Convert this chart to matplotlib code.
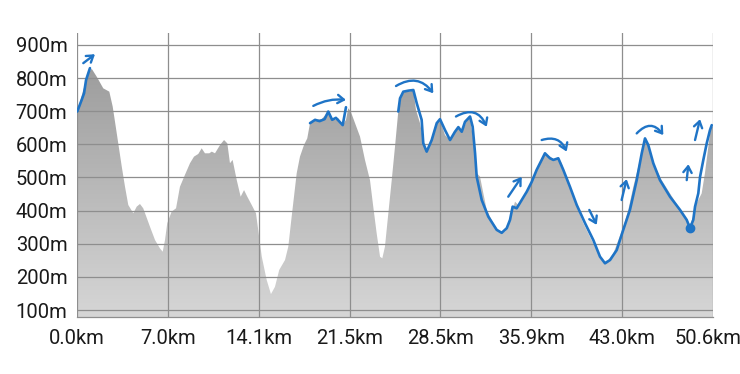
import numpy as np
import matplotlib
matplotlib.use("Agg")
import matplotlib.pyplot as plt
import matplotlib.transforms as mtransforms
from matplotlib.colors import LinearSegmentedColormap

plt.rcParams['font.family'] = ['Roboto', 'DejaVu Sans']

# elevation profile (km, m)
dist = [0.0, 0.50, 0.98, 1.17, 1.57, 2.09, 2.57, 2.84, 3.16, 3.56, 3.82, 4.08, 4.48, 4.75,
        5.01, 5.27, 5.81, 6.21, 6.60, 6.82, 7.00, 7.18, 7.53, 7.88, 8.19, 8.59, 8.99, 9.31,
        9.65, 9.92, 10.18, 10.53, 10.72, 10.98, 11.38, 11.70, 11.96, 12.17, 12.38, 12.71,
        13.02, 13.29, 13.55, 13.90, 14.24, 14.42, 14.70, 15.09, 15.43, 15.75, 16.09, 16.55,
        16.81, 17.08, 17.48, 17.74, 18.06, 18.32, 18.54, 18.94, 19.47, 19.99, 20.26, 20.53,
        20.79, 21.14, 21.40, 21.58, 21.78, 22.12, 22.52, 22.91, 23.31, 23.57, 23.84, 24.11,
        24.29, 24.50, 24.77, 25.04, 25.30, 25.56, 25.83, 26.10, 26.49, 26.76, 26.97, 27.29,
        27.55, 27.82, 28.09, 28.48, 28.75, 29.02, 29.28, 29.68, 29.99, 30.34, 30.61, 30.87,
        31.13, 31.27, 31.53, 31.80, 32.06, 32.33, 32.60, 32.99, 33.39, 33.79, 34.05, 34.31,
        34.58, 34.85, 35.11, 35.38, 35.78, 36.18, 36.57, 36.97, 37.23, 37.63, 38.03, 38.29,
        38.56, 38.82, 39.22, 39.76, 40.28, 40.81, 41.35, 41.87, 42.27, 42.67, 43.07, 43.46,
        43.86, 44.26, 44.66, 45.06, 45.27, 45.59, 45.99, 46.52, 47.18, 47.84, 48.37, 48.71,
        49.03, 49.30, 49.70, 49.96, 50.23, 50.42, 50.60]
elev = [694, 764, 819, 828, 804, 769, 759, 714, 634, 533, 472, 417, 392, 412,
        420, 407, 351, 311, 286, 276, 311, 362, 397, 407, 472, 508, 543, 563,
        571, 588, 573, 573, 578, 573, 598, 613, 603, 543, 553, 492,
        442, 462, 442, 417, 392, 341, 261, 191, 148, 170, 221, 251,
        291, 382, 513, 563, 598, 618, 664, 674, 676, 699, 679, 674,
        679, 658, 674, 709, 699, 664, 623, 553, 492, 412, 332, 261,
        256, 291, 392, 492, 593, 699, 749, 759, 759, 764, 704, 664,
        613, 578, 603, 653, 674, 658, 628, 613, 638, 649, 638, 658,
        684, 679, 613, 513, 503, 452, 402, 372, 346, 332, 336, 351,
        392, 427, 417, 427, 452, 482, 528, 558, 573, 563, 553, 558,
        543, 513, 472, 412, 362, 321, 281, 246, 251, 271, 311, 351,
        402, 472, 533, 593, 618, 573, 533, 492, 452, 412, 382, 351,
        382, 422, 452, 513, 593, 649, 655]

xtick_labels = ['0.0km', '7.0km', '14.1km', '21.5km', '28.5km', '35.9km', '43.0km', '50.6km']
yticks = [100, 200, 300, 400, 500, 600, 700, 800, 900]

# hand-drawn blue strokes
start_d = [0.02, 0.37, 0.56, 0.72, 0.90, 1.03]
start_e = [699, 734, 754, 794, 815, 830]
mid_d = [18.54, 18.94, 19.30, 19.70, 19.99, 20.30, 20.60, 21.14, 21.40]
mid_e = [664, 674, 670, 676, 699, 674, 680, 658, 712]
trace_d = [25.56, 25.70, 25.96, 26.36, 26.76, 27.03, 27.42, 27.55, 27.82, 28.22, 28.62, 28.88,
           29.28, 29.68, 30.07, 30.34, 30.61, 30.87, 31.27, 31.48, 31.67, 31.80, 32.20, 32.72,
           33.39, 33.79, 34.19, 34.45, 34.66, 34.98, 35.38, 35.78, 36.18, 36.57, 36.97, 37.23,
           37.63, 37.90, 38.29, 38.69, 39.22, 39.76, 40.42, 41.08, 41.61, 42.01, 42.41, 42.94,
           43.46, 43.99, 44.53, 44.93, 45.19, 45.45, 45.85, 46.38, 47.18, 47.98, 48.51, 48.77,
           49.03, 49.17, 49.43, 49.57, 49.83, 50.10, 50.36, 50.50]
trace_e = [699, 739, 759, 762, 764, 724, 674, 603, 578, 613, 664, 676,
           643, 613, 638, 652, 638, 668, 684, 653, 573, 502, 432, 382,
           342, 333, 347, 372, 412, 407, 432, 457, 487, 523, 553, 573,
           558, 553, 558, 523, 472, 417, 362, 311, 261, 241, 251, 281,
           342, 402, 492, 573, 618, 598, 543, 492, 442, 402, 372, 347,
           372, 412, 452, 502, 553, 603, 643, 658]
dot = (48.77, 347)

# arrows: (tail, head, curvature)
arrows = [((0.50, 845), (1.43, 872), 0.0),
          ((18.80, 716), (21.40, 734), -0.15),
          ((25.38, 776), (28.35, 754), -0.45),
          ((30.15, 684), (32.60, 653), -0.55),
          ((34.31, 442), (35.38, 502), 0.0),
          ((36.97, 613), (38.96, 578), -0.45),
          ((40.76, 402), (41.35, 357), 0.0),
          ((43.33, 432), (43.73, 495), 0.0),
          ((44.53, 633), (46.65, 628), -0.6),
          ((48.51, 492), (48.64, 540), 0.0),
          ((49.17, 613), (49.57, 676), 0.0)]

blue = '#1f74c6'
grid_c = '#8e8e8e'
x_max = 50.6
y_lo, y_hi = 79, 936

fig = plt.figure(figsize=(7.4, 3.74), dpi=100)
ax = fig.add_axes([77 / 740, 1 - 317 / 374, 636 / 740, 284 / 374])

# gradient fill clipped to profile
poly = ax.fill_between(dist, elev, y_lo, color='none', lw=0)
cmap = LinearSegmentedColormap.from_list('g', ['#959595', '#d6d6d6'])
grad = np.linspace(0, 1, 256).reshape(-1, 1)
im = ax.imshow(grad, cmap=cmap, aspect='auto', extent=[0, x_max, y_lo, y_hi],
               origin='upper', zorder=1)
im.set_clip_path(poly.get_paths()[0], transform=ax.transData)

xt = np.linspace(0, x_max, len(xtick_labels))
for v in yticks:
    ax.axhline(v, color=grid_c, lw=0.9, zorder=2)
for v in xt:
    ax.axvline(v, color=grid_c, lw=0.9, zorder=2)

ax.plot(start_d, start_e, color=blue, lw=1.9, zorder=4, solid_capstyle='round')
ax.plot(mid_d, mid_e, color=blue, lw=1.9, zorder=4, solid_capstyle='round')
ax.plot(trace_d, trace_e, color=blue, lw=1.9, zorder=4, solid_capstyle='round')
ax.plot(*dot, 'o', color=blue, ms=6, zorder=5)

for tail, head, rad in arrows:
    ax.annotate('', xy=head, xytext=tail,
                arrowprops=dict(arrowstyle='->,head_length=0.45,head_width=0.3', color=blue,
                                lw=1.7, shrinkA=0, shrinkB=0,
                                connectionstyle='arc3,rad=%s' % rad), zorder=5)

ax.set_xlim(0, x_max)
ax.set_ylim(y_lo, y_hi)
ax.set_xticks(xt)
ax.set_xticklabels(xtick_labels)
ax.set_yticks(yticks)
ax.set_yticklabels(['%dm' % v for v in yticks])
ax.tick_params(length=0, labelsize=14.5, colors='#1a1a1a')
ax.tick_params(axis='x', pad=9)
ax.tick_params(axis='y', pad=7)
for s in ['top', 'left', 'right']:
    ax.spines[s].set_visible(False)
ax.spines['bottom'].set_color(grid_c)
ax.spines['bottom'].set_linewidth(0.9)

# nudge last x label so it stays inside the figure
last = ax.get_xticklabels()[-1]
last.set_transform(last.get_transform() + mtransforms.ScaledTranslation(-5 / 100, 0, fig.dpi_scale_trans))

fig.savefig('out.png', dpi=100)
